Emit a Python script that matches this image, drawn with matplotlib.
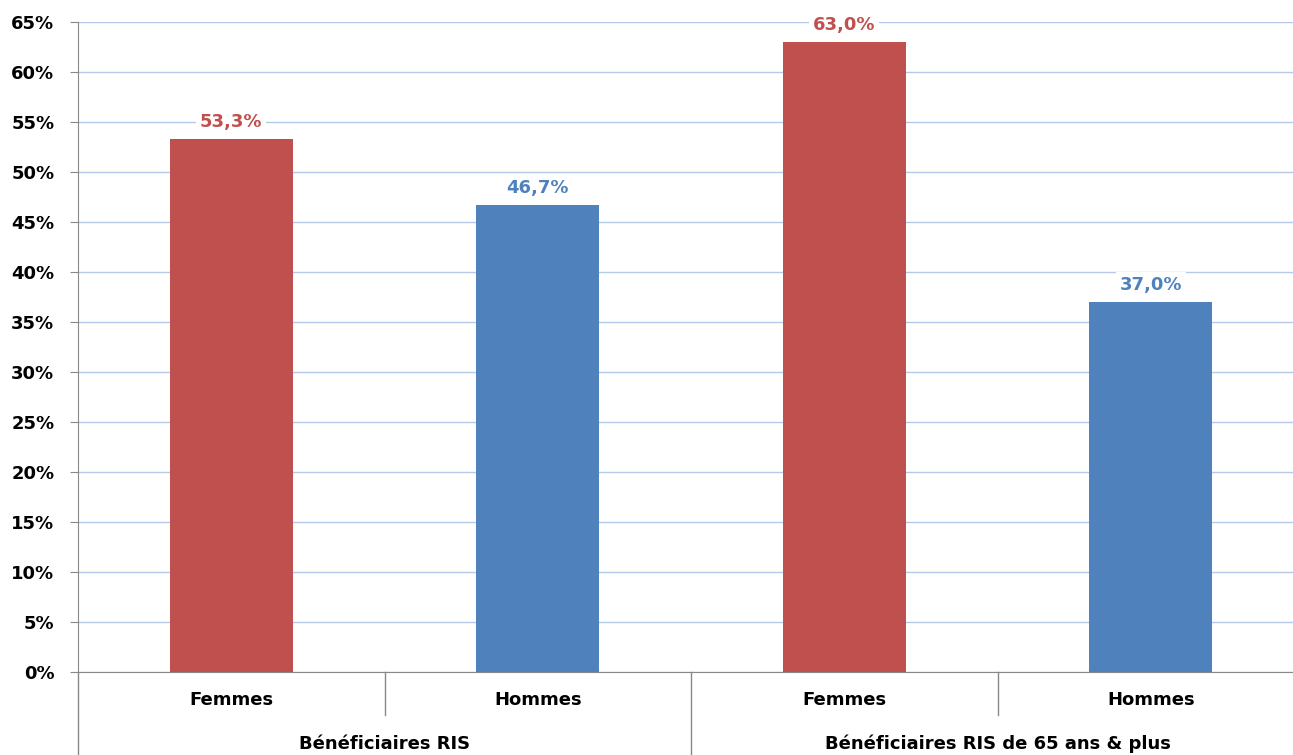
import matplotlib.pyplot as plt
import matplotlib.transforms as mtransforms
from matplotlib.ticker import MultipleLocator, FuncFormatter

# Répartition par sexe des bénéficiaires
sexes = ["Femmes", "Hommes", "Femmes", "Hommes"]
groupes = ["Bénéficiaires RIS", "Bénéficiaires RIS de 65 ans & plus"]
parts = [53.3, 46.7, 63.0, 37.0]
couleurs = ["#C0504D", "#4F81BD", "#C0504D", "#4F81BD"]

plt.rcParams["font.family"] = "DejaVu Sans"
plt.rcParams["font.weight"] = "bold"

fig = plt.figure(figsize=(12.93, 7.55), dpi=100)
ax = fig.add_axes([78 / 1293, 83 / 755, 1226 / 1293, 650 / 755])

x = list(range(len(parts)))
ax.bar(x, parts, width=0.4, color=couleurs, zorder=3)

for xi, v, c in zip(x, parts, couleurs):
    ax.annotate(f"{v:.1f}%".replace(".", ","), (xi, v), xytext=(0, 6),
                textcoords="offset points", ha="center", va="bottom",
                fontsize=13, fontweight="bold", color=c, zorder=4,
                bbox=dict(boxstyle="square,pad=0.2", fc="white", ec="none"))

ax.set_xlim(-0.5, 3.5)
ax.set_ylim(0, 65)
ax.yaxis.set_major_locator(MultipleLocator(5))
ax.yaxis.set_major_formatter(FuncFormatter(lambda v, p: f"{v:.0f}%"))
ax.grid(axis="y", color="#B7C9E8", linewidth=1, zorder=0)
ax.tick_params(axis="y", length=6, color="#888888", labelsize=13, pad=11)
ax.set_xticks([])

for s in ["top", "right"]:
    ax.spines[s].set_visible(False)
ax.spines["left"].set_color("#888888")
ax.spines["bottom"].set_color("#888888")

# axe de catégories à deux niveaux
trans = mtransforms.blended_transform_factory(ax.transData, ax.transAxes)
for b in [0.5, 2.5]:
    ax.plot([b, b], [0, -43 / 650], transform=trans, color="#888888",
            linewidth=1, clip_on=False)
for b in [-0.5, 1.5]:
    ax.plot([b, b], [0, -83 / 650], transform=trans, color="#888888",
            linewidth=1, clip_on=False)

for xi, s in zip(x, sexes):
    ax.text(xi, -28 / 650, s, transform=trans, ha="center", va="center",
            fontsize=13, fontweight="bold")
for i, g in enumerate(groupes):
    ax.text(2 * i + 0.5, -72 / 650, g, transform=trans, ha="center",
            va="center", fontsize=13, fontweight="bold")

fig.savefig("out.png", dpi=100)
